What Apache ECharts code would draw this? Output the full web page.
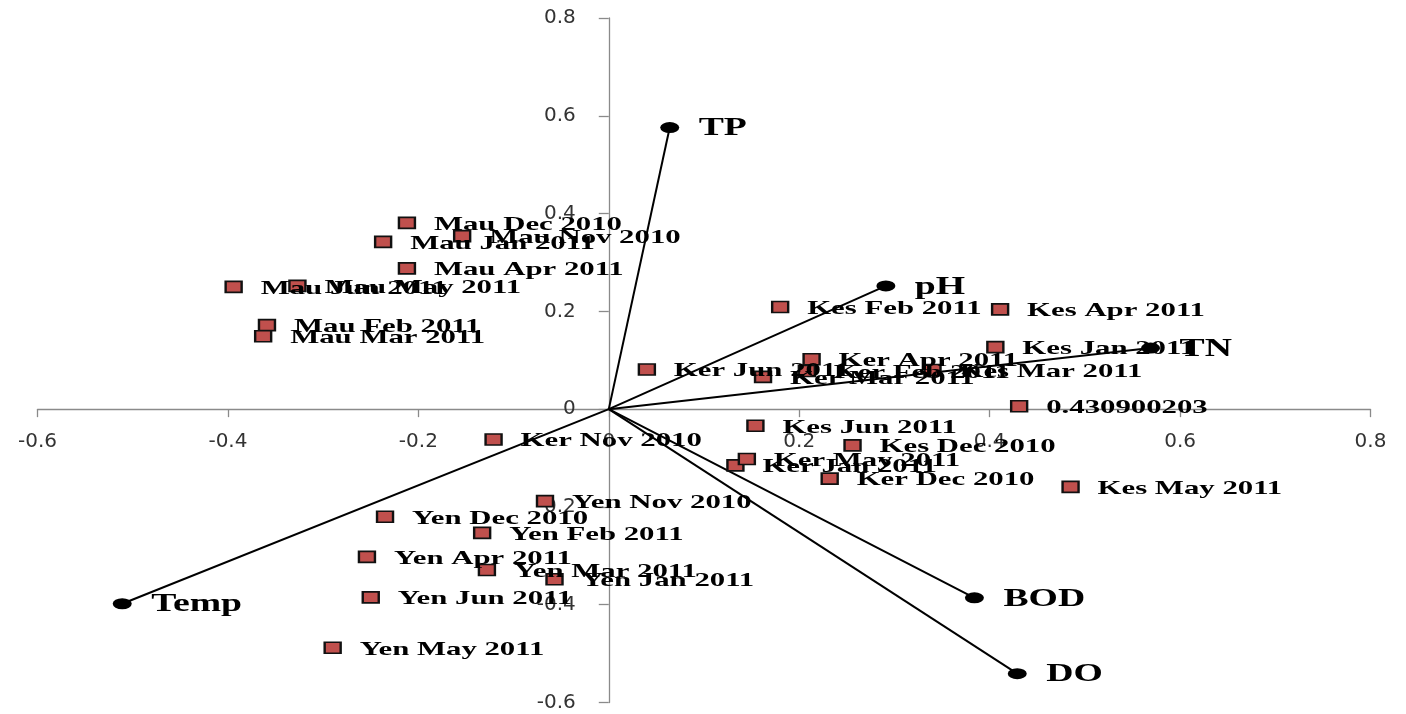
<!DOCTYPE html>
<html><head><meta charset="utf-8">
<script src="https://cdn.jsdelivr.net/npm/echarts@6/dist/echarts.min.js"></script>
<style>html,body{margin:0;padding:0;background:#fff}#c{width:1406px;height:714px}</style>
</head><body><div id="c"></div>
<script>
// Observation (site-month) scores
const obsNames = [
  'Mau Nov 2010','Mau Dec 2010','Mau Jan 2011','Mau Feb 2011','Mau Mar 2011','Mau Apr 2011','Mau May 2011','Mau Jun 2011',
  'Ker Nov 2010','Ker Dec 2010','Ker Jan 2011','Ker Feb 2011','Ker Mar 2011','Ker Apr 2011','Ker May 2011','Ker Jun 2011',
  '0.430900203','Kes Dec 2010','Kes Jan 2011','Kes Feb 2011','Kes Mar 2011','Kes Apr 2011','Kes May 2011','Kes Jun 2011',
  'Yen Nov 2010','Yen Dec 2010','Yen Jan 2011','Yen Feb 2011','Yen Mar 2011','Yen Apr 2011','Yen May 2011','Yen Jun 2011'
];
const obsX = [
  -0.154,-0.212,-0.237,-0.359,-0.363,-0.212,-0.327,-0.394,
  -0.121, 0.232, 0.133, 0.208, 0.162, 0.213, 0.145, 0.040,
   0.431, 0.256, 0.406, 0.180, 0.340, 0.411, 0.485, 0.154,
  -0.067,-0.235,-0.057,-0.133,-0.128,-0.254,-0.290,-0.250
];
const obsY = [
   0.354, 0.381, 0.342, 0.172, 0.149, 0.288, 0.252, 0.250,
  -0.062,-0.142,-0.115, 0.078, 0.066, 0.102,-0.102, 0.081,
   0.006,-0.074, 0.127, 0.209, 0.080, 0.204,-0.159,-0.034,
  -0.188,-0.220,-0.348,-0.253,-0.329,-0.302,-0.488,-0.385
];
// Variable loadings
const varNames = ['TP','pH','TN','BOD','DO','Temp'];
const varX = [0.064, 0.291, 0.569, 0.384, 0.429, -0.511];
const varY = [0.576, 0.252, 0.125, -0.386, -0.541, -0.398];
// Axis ranges / ticks
const xMin = -0.6, xMax = 0.8, yMin = -0.6, yMax = 0.8, tickStep = 0.2;

const W = 1406, H = 714;
const G = {left: 37.5, right: 35.5, top: 18, bottom: 11.5};
const gw = W - G.left - G.right, gh = H - G.top - G.bottom;
// shift axes so they cross at the origin
const yAxisOffset = -gw * (0 - xMin) / (xMax - xMin);
const xAxisOffset = -gh * (0 - yMin) / (yMax - yMin);

const fmt = v => String(Number(v.toFixed(1)));
const axisColor = '#8a8a8a';

function labelSeries(names, xs, ys, dx, dy, font, sx) {
  return {
    type: 'custom', coordinateSystem: 'cartesian2d', silent: true, z: 10,
    data: xs.map((x, i) => [x, ys[i]]),
    encode: {x: 0, y: 1},
    renderItem: function (params, api) {
      const p = api.coord([api.value(0), api.value(1)]);
      return {
        type: 'text', x: p[0] + dx, y: p[1] + dy, scaleX: sx, originX: 0, originY: 0,
        style: {
          text: names[params.dataIndex], font: font,
          fill: '#000', textFill: '#000',
          align: 'left', textAlign: 'left',
          verticalAlign: 'middle', textVerticalAlign: 'middle'
        }
      };
    }
  };
}

const series = [];
varNames.forEach((n, i) => {
  series.push({
    type: 'line', name: n, data: [[0, 0], [varX[i], varY[i]]],
    showSymbol: false, symbol: 'none', silent: true, z: 2,
    lineStyle: {color: '#000', width: 2}
  });
});
series.push({
  type: 'scatter', name: 'obs', data: obsX.map((x, i) => [x, obsY[i]]),
  symbol: 'rect', symbolSize: [16, 11], z: 3, silent: true,
  itemStyle: {color: '#C0504D', borderColor: '#111', borderWidth: 2, opacity: 1}
});
series.push({
  type: 'scatter', name: 'vars', data: varX.map((x, i) => [x, varY[i]]),
  symbol: 'circle', symbolSize: [19, 11], z: 4, silent: true,
  itemStyle: {color: '#000', opacity: 1}
});
series.push(labelSeries(obsNames, obsX, obsY, 27, 2, 'bold 19px "Liberation Serif", "Times New Roman", serif', 1.62));
series.push(labelSeries(varNames, varX, varY, 29, 1, 'bold 26px "Liberation Serif", "Times New Roman", serif', 1.45));

const chart = echarts.init(document.getElementById('c'));
chart.setOption({
  animation: false,
  backgroundColor: '#fff',
  grid: {left: G.left, right: G.right, top: G.top, bottom: G.bottom, containLabel: false, outerBoundsMode: 'none'},
  xAxis: {
    type: 'value', min: xMin, max: xMax, interval: tickStep, position: 'bottom', offset: xAxisOffset,
    axisLine: {show: true, onZero: false, lineStyle: {color: axisColor, width: 1.3}},
    axisTick: {show: true, length: 8, lineStyle: {color: axisColor, width: 1.3}},
    splitLine: {show: false},
    axisLabel: {margin: 23, fontSize: 20, fontFamily: '"DejaVu Sans", sans-serif', color: '#333',
      showMinLabel: true, showMaxLabel: true, formatter: fmt}
  },
  yAxis: {
    type: 'value', min: yMin, max: yMax, interval: tickStep, position: 'left', offset: yAxisOffset,
    axisLine: {show: true, onZero: false, lineStyle: {color: axisColor, width: 1.3}},
    axisTick: {show: true, length: 10, lineStyle: {color: axisColor, width: 1.3}},
    splitLine: {show: false},
    axisLabel: {margin: 33, fontSize: 20, fontFamily: '"DejaVu Sans", sans-serif', color: '#333',
      showMinLabel: true, showMaxLabel: true, formatter: fmt}
  },
  series: series
});
</script></body></html>
